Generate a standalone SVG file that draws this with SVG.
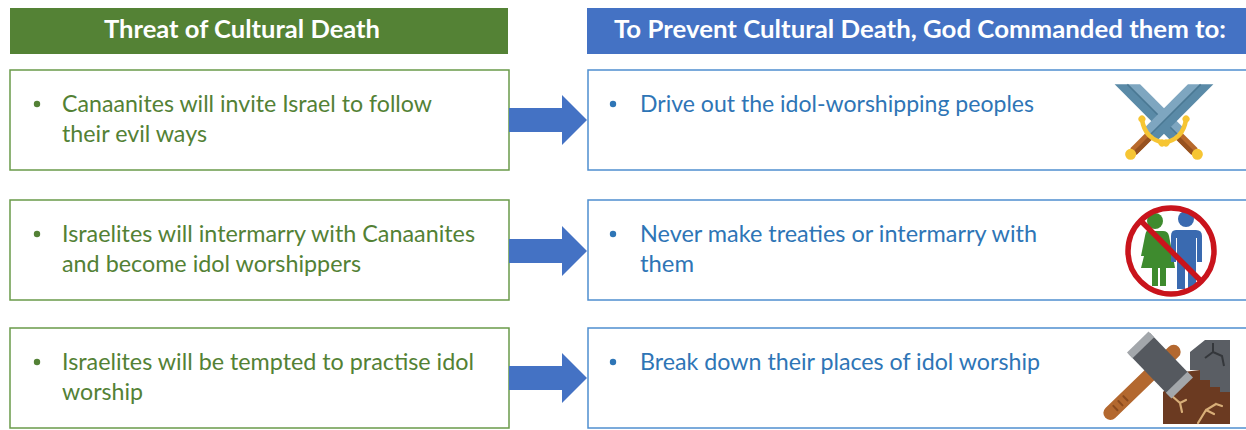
<svg xmlns="http://www.w3.org/2000/svg" width="1246" height="430" viewBox="0 0 1246 430">
<style>
.hdr{font-family:Lato,"Liberation Sans",sans-serif;font-weight:bold;font-size:25px;fill:#ffffff;text-anchor:middle}
.lt{font-family:Lato,"Liberation Sans",sans-serif;font-size:23px;fill:#538135}
.rt{font-family:Lato,"Liberation Sans",sans-serif;font-size:23px;fill:#2E75B6}
.lbox{fill:#ffffff;stroke:#6A9A4A;stroke-width:1.5}
.rbox{fill:#ffffff;stroke:#4F8FCF;stroke-width:1.5}
.lb{fill:#538135}
.rb{fill:#2E75B6}
.arrow{fill:#4472C4}
</style>
<defs>
<polygon id="arr" points="0,-12 53,-12 53,-25 78,0 53,25 53,12 0,12"/>
<g id="sword">
<polygon points="18,-9 80,-9 80,0 9,0" fill="#7EA6C0"/>
<polygon points="9,0 80,0 80,9 0,9" fill="#5A8AA7"/>
<line x1="9" y1="0" x2="80" y2="0" stroke="#4A7893" stroke-width="1.5"/>
<rect x="82" y="-4.5" width="22" height="9" fill="#B8692C"/>
<rect x="82" y="0" width="22" height="4.5" fill="#97521F"/>
<path d="M75,-17 Q88,0 75,17" fill="none" stroke="#F6C533" stroke-width="4.5" stroke-linecap="round"/>
<circle cx="75" cy="-17" r="3.5" fill="#F6C533"/>
<circle cx="75" cy="17" r="3.5" fill="#F6C533"/>
<circle cx="108" cy="0" r="5.5" fill="#F6C533"/>
</g>
</defs>
<rect width="1246" height="430" fill="#ffffff"/>

<g id="header-left">
<rect x="10" y="8" width="498" height="46" fill="#548235"/>
<text class="hdr" x="242" y="38" textLength="276" lengthAdjust="spacingAndGlyphs">Threat of Cultural Death</text>
</g>
<g id="header-right">
<rect x="587" y="8" width="659" height="46" fill="#4472C4"/>
<text class="hdr" x="920" y="38" textLength="612" lengthAdjust="spacingAndGlyphs">To Prevent Cultural Death, God Commanded them to:</text>
</g>

<g id="threat-1">
<rect class="lbox" x="10" y="70" width="499" height="100"/>
<circle class="lb" cx="37" cy="104" r="3.2"/>
<text class="lt" x="62" y="112" textLength="370" lengthAdjust="spacingAndGlyphs">Canaanites will invite Israel to follow</text>
<text class="lt" x="62" y="142" textLength="145" lengthAdjust="spacingAndGlyphs">their evil ways</text>
</g>
<g id="threat-2">
<rect class="lbox" x="10" y="200" width="499" height="100"/>
<circle class="lb" cx="37" cy="234" r="3.2"/>
<text class="lt" x="62" y="242" textLength="413" lengthAdjust="spacingAndGlyphs">Israelites will intermarry with Canaanites</text>
<text class="lt" x="62" y="272" textLength="299" lengthAdjust="spacingAndGlyphs">and become idol worshippers</text>
</g>
<g id="threat-3">
<rect class="lbox" x="10" y="328" width="499" height="100"/>
<circle class="lb" cx="37" cy="362" r="3.2"/>
<text class="lt" x="62" y="370" textLength="412" lengthAdjust="spacingAndGlyphs">Israelites will be tempted to practise idol</text>
<text class="lt" x="62" y="400" textLength="81" lengthAdjust="spacingAndGlyphs">worship</text>
</g>

<g id="command-1">
<rect class="rbox" x="588" y="70" width="665" height="100"/>
<circle class="rb" cx="613" cy="104" r="3.2"/>
<text class="rt" x="640" y="112" textLength="394" lengthAdjust="spacingAndGlyphs">Drive out the idol-worshipping peoples</text>
<g id="icon-swords">
<use href="#sword" transform="translate(1121,78) rotate(45)"/>
<use href="#sword" transform="translate(1207,78) rotate(135) scale(1,-1)"/>
</g>
</g>
<g id="command-2">
<rect class="rbox" x="588" y="200" width="665" height="100"/>
<circle class="rb" cx="613" cy="234" r="3.2"/>
<text class="rt" x="640" y="242" textLength="397" lengthAdjust="spacingAndGlyphs">Never make treaties or intermarry with</text>
<text class="rt" x="640" y="272" textLength="54" lengthAdjust="spacingAndGlyphs">them</text>
<g id="icon-no-marriage">
<g fill="#3E8B2E">
<circle cx="1155" cy="221" r="8"/>
<path d="M1147,231 L1163,231 Q1168,231 1169,236 L1173,256 L1175,268 L1166,268 L1166,286 L1160,286 L1160,268 L1158,268 L1158,286 L1152,286 L1152,268 L1141,268 L1144,256 L1141,256 L1145,236 Q1146,231 1147,231 Z"/>
</g>
<g fill="#3A6AB0">
<circle cx="1186" cy="219" r="8"/>
<path d="M1176,230 L1196,230 Q1202,230 1202,236 L1202,262 L1197,262 L1197,238 L1196,238 L1196,289 L1188,289 L1188,264 L1185,264 L1185,289 L1177,289 L1177,238 L1176,238 L1176,262 L1171,262 L1171,236 Q1171,230 1176,230 Z"/>
</g>
<circle cx="1171" cy="251" r="43" fill="none" stroke="#C9141C" stroke-width="5.5"/>
<line x1="1141" y1="221" x2="1201" y2="281" stroke="#C9141C" stroke-width="5.5"/>
</g>
</g>
<g id="command-3">
<rect class="rbox" x="588" y="328" width="665" height="100"/>
<circle class="rb" cx="613" cy="362" r="3.2"/>
<text class="rt" x="640" y="370" textLength="400" lengthAdjust="spacingAndGlyphs">Break down their places of idol worship</text>
<g id="icon-hammer">
<polygon points="1190,352 1205,340 1230,340 1230,392 1220,392 1220,387 1210,387 1210,380 1200,380 1200,370 1190,370" fill="#5A5E64"/>
<path d="M1213,343 L1213,352 L1205,358 M1213,352 L1222,356 L1224,366" fill="none" stroke="#34373B" stroke-width="2"/>
<polygon points="1163,392 1183,372 1200,370 1200,380 1210,380 1210,387 1220,387 1220,392 1230,392 1230,424 1163,424" fill="#6B3A21"/>
<path d="M1172,396 L1180,403 L1186,400 M1180,403 L1182,412 M1198,423 L1206,410 L1216,404 M1206,410 L1214,414 M1216,404 L1222,406" fill="none" stroke="#D8AE78" stroke-width="2.2" stroke-linecap="round"/>
<g transform="translate(1160,365) rotate(46)">
<rect x="-7" y="-26" width="14" height="102" rx="7" fill="#B3682F"/>
<path d="M-3,48 L3,48 M-3,55 L3,55 M-3,62 L3,62" stroke="#8A4A1E" stroke-width="2" stroke-linecap="round"/>
<rect x="-30" y="-15" width="60" height="30" fill="#55595F"/>
<rect x="-32" y="-15" width="8" height="30" fill="#A3A7AB"/>
<rect x="24" y="-15" width="8" height="30" fill="#A3A7AB"/>
</g>
</g>
</g>

<g id="connectors">
<use href="#arr" class="arrow" transform="translate(509,120)"/>
<use href="#arr" class="arrow" transform="translate(509,251)"/>
<use href="#arr" class="arrow" transform="translate(509,378)"/>
</g>
</svg>
